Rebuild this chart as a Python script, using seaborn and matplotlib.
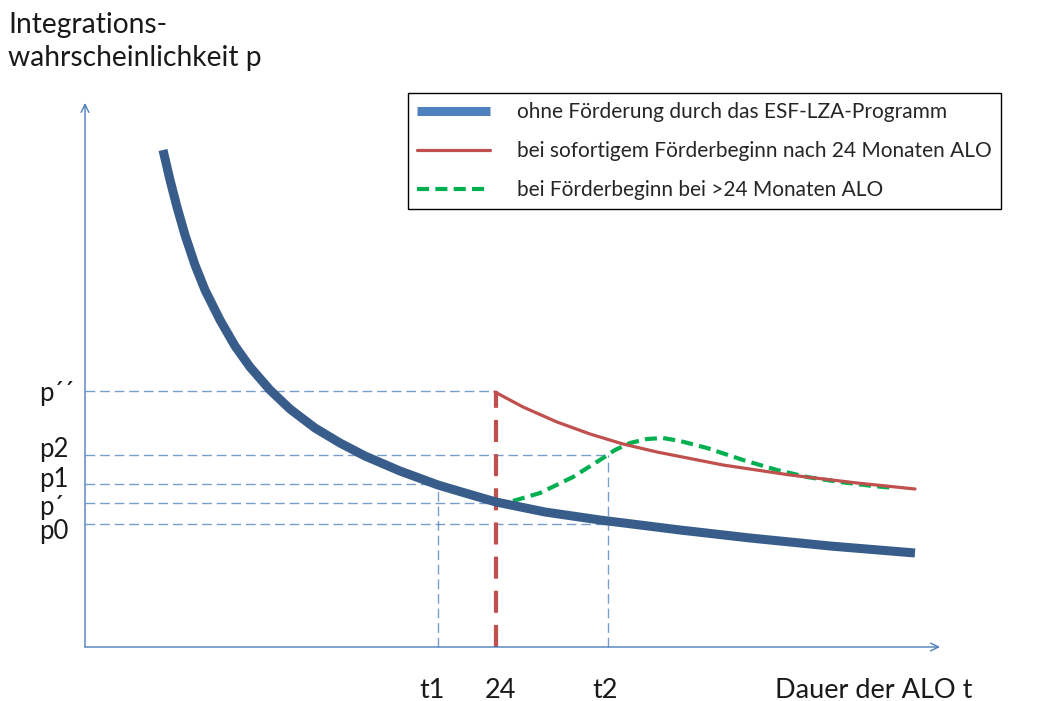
import numpy as np
import pandas as pd
import matplotlib
matplotlib.use("Agg")
import matplotlib.pyplot as plt
import seaborn as sns

# ========================================================
# DATA (origin = axis corner)
# ========================================================
blue_x = [78, 85, 92, 100, 110, 120, 135, 150, 165, 185, 205, 230, 255, 280, 315, 353,
          380, 411, 460, 515, 595, 665, 745, 830]
blue_y = [497, 467, 440, 412, 382, 357, 327, 301, 280, 257, 238, 219, 204, 191, 176, 162,
          154, 145, 135, 127, 117, 109, 101, 94]

red_x = [410, 438, 472, 505, 538, 572, 638, 705, 772, 830]
red_y = [255, 240, 225, 213, 203, 195, 182, 172, 164, 158]

green_x = [428, 455, 488, 518, 530, 545, 562, 578, 595, 622, 658, 692, 722, 755, 788, 810]
green_y = [146, 154, 170, 189, 197, 204, 208, 209, 206, 199, 187, 177, 170, 165, 161, 159]

# start of programme (24 months) and its level
start_x = 411
start_top = 256

# reference levels on the y axis and how far their guide reaches
p_labels = ["p´´", "p2", "p1", "p´", "p0"]
p_values = [256, 192, 163, 144, 123]
p_reach = [411, 523, 353, 411, 523]
p_text_y = [254, 197, 168, 139, 115]

# reference points on the x axis
t_labels = ["t1", "24", "t2"]
t_values = [353, 411, 523]
t_reach = [163, 0, 192]
t_text_x = [347, 415, 520]

legend_labels = [
    "ohne Förderung durch das ESF-LZA-Programm",
    "bei sofortigem Förderbeginn nach 24 Monaten ALO",
    "bei Förderbeginn bei >24 Monaten ALO",
]

X_END = 855
Y_END = 544

# ========================================================
# STYLE
# ========================================================
sns.set_theme(style="white")
plt.rcParams["font.family"] = ["Lato", "DejaVu Sans"]

AXIS_COLOR = "#4a7ebb"
BLUE = "#385d8a"
RED = "#c0504d"
GREEN = "#00b050"
TEXT = "#1a1a1a"

fig = plt.figure(figsize=(10.38, 7.01), dpi=100)
ax = fig.add_axes([0, 0, 1, 1])
ax.set_xlim(-85, 1038 - 85)
ax.set_ylim(647 - 701, 647)
ax.axis("off")

# guide lines
ax.hlines(p_values, 0, p_reach, colors=AXIS_COLOR, alpha=0.75, lw=1.0,
          linestyles=[(0, (7, 3.5))])
for tx, reach in zip(t_values, t_reach):
    if reach > 0:
        ax.vlines(tx, 0, reach, colors=AXIS_COLOR, alpha=0.75, lw=1.0,
                  linestyles=[(0, (7, 3.5))])

# red dashed start marker
ax.vlines(start_x, 0, start_top, colors=RED, lw=3.0, linestyles=[(0, (5.3, 2.9))])

# curves
sns.lineplot(x=blue_x, y=blue_y, ax=ax, color=BLUE, lw=6.5, label=legend_labels[0],
             solid_capstyle="butt", solid_joinstyle="round", zorder=4)
sns.lineplot(x=red_x, y=red_y, ax=ax, color=RED, lw=2.3, label=legend_labels[1],
             solid_joinstyle="round", zorder=4)
sns.lineplot(x=green_x, y=green_y, ax=ax, color=GREEN, lw=3.0, label=legend_labels[2],
             linestyle=(0, (2.9, 1.5)), zorder=3)

# axes with open arrow heads
ax.annotate("", xy=(X_END, 0), xytext=(0, 0),
            arrowprops=dict(arrowstyle="->", color=AXIS_COLOR, lw=1.0, mutation_scale=14,
                            shrinkA=0, shrinkB=0))
ax.annotate("", xy=(0, Y_END), xytext=(0, 0),
            arrowprops=dict(arrowstyle="->", color=AXIS_COLOR, lw=1.0, mutation_scale=14,
                            shrinkA=0, shrinkB=0))

# labels
for lab, ty in zip(p_labels, p_text_y):
    ax.text(-46, ty, lab, fontsize=18.5, ha="left", va="center", color=TEXT)
for lab, tx in zip(t_labels, t_text_x):
    ax.text(tx, -43, lab, fontsize=19.5, ha="center", va="center", color=TEXT)
ax.text(690, -43, "Dauer der ALO t", fontsize=19.5, ha="left", va="center", color=TEXT)

ax.text(-77, 622, "Integrations-", fontsize=20.3, ha="left", va="center", color=TEXT)
ax.text(-77, 589, "wahrscheinlichkeit p", fontsize=20.3, ha="left", va="center", color=TEXT)

leg = ax.legend(loc="upper left", bbox_to_anchor=(408 / 1038, 1 - 93 / 701), fontsize=15,
                frameon=True, fancybox=False, edgecolor="#000000", framealpha=1,
                handlelength=3.5, handletextpad=1.3, labelspacing=0.9,
                borderpad=0.45, borderaxespad=0)
leg.get_frame().set_linewidth(1.0)
leg.get_lines()[0].set_color("#4f81bd")

plt.savefig("out.png", dpi=100)
